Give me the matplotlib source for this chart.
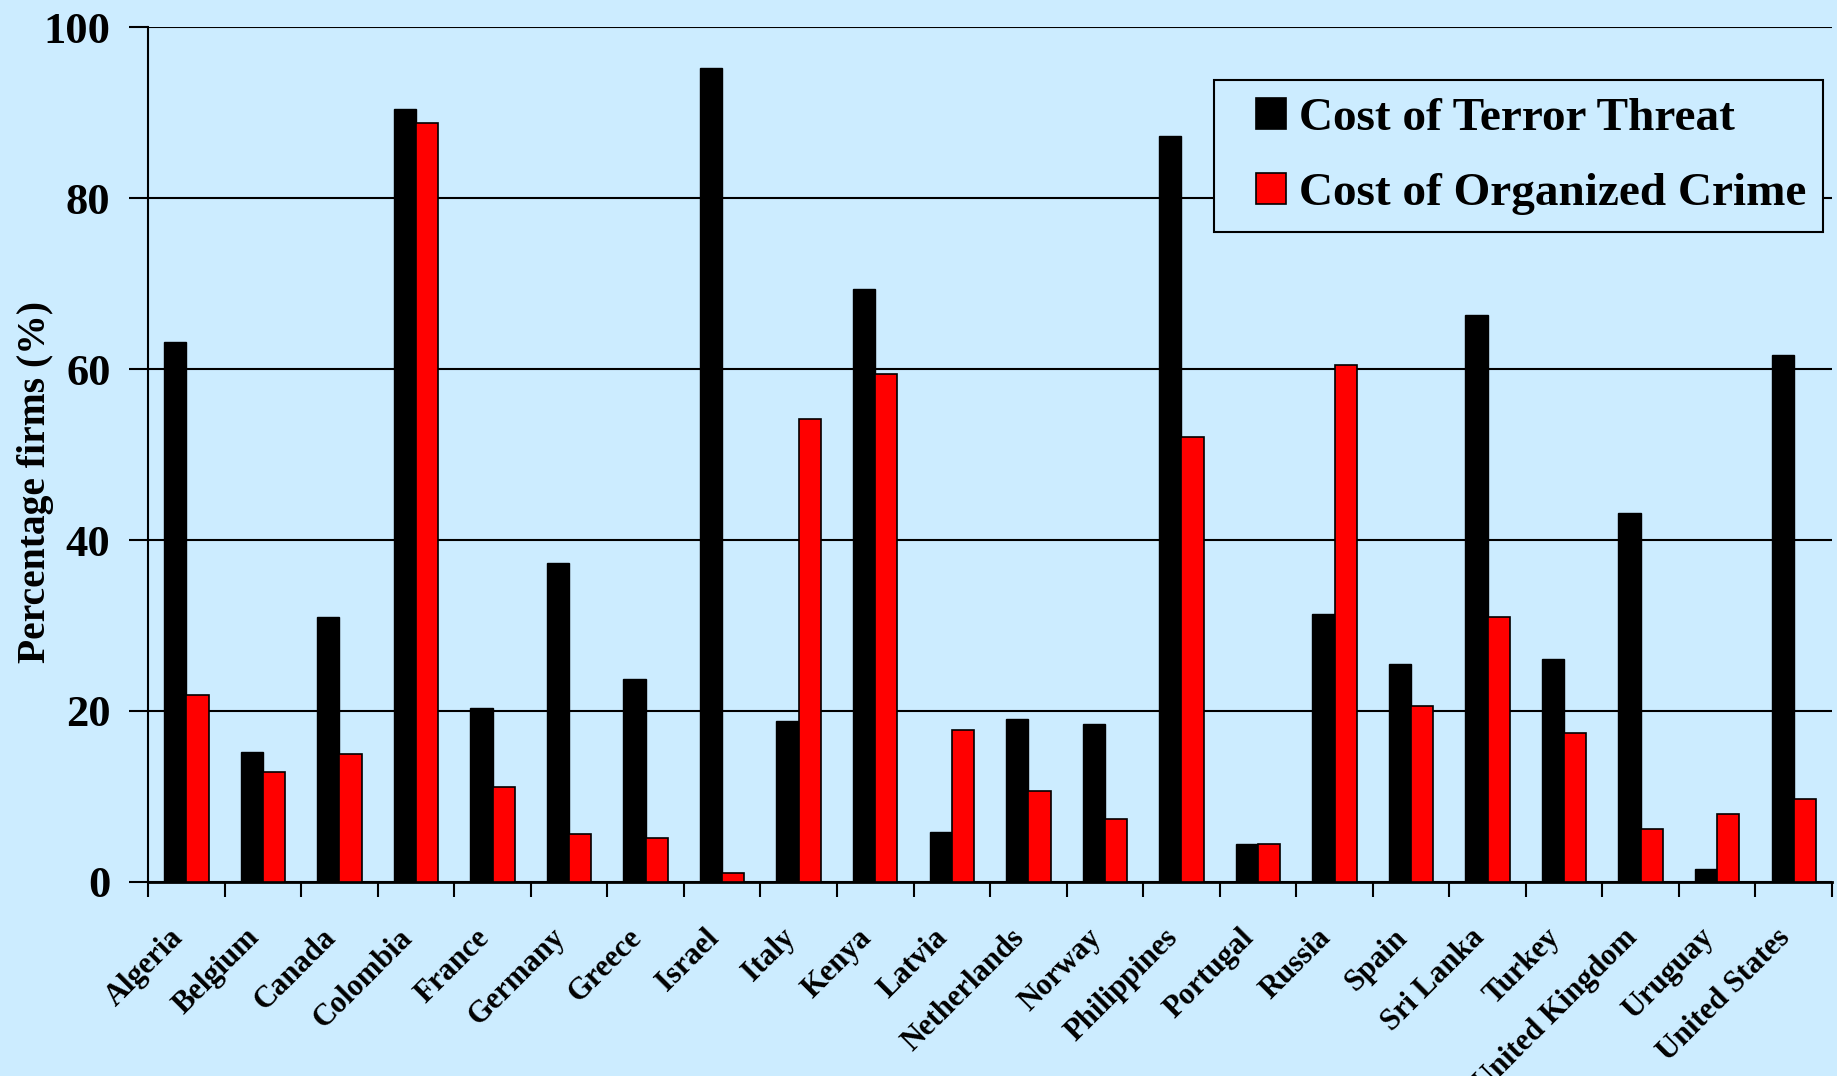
import matplotlib
matplotlib.use("Agg")
import matplotlib.pyplot as plt
import matplotlib.transforms as mtransforms
from matplotlib.legend_handler import HandlerPatch
from matplotlib.patches import Rectangle
import numpy as np

countries = ["Algeria", "Belgium", "Canada", "Colombia", "France", "Germany", "Greece",
             "Israel", "Italy", "Kenya", "Latvia", "Netherlands", "Norway", "Philippines",
             "Portugal", "Russia", "Spain", "Sri Lanka", "Turkey", "United Kingdom",
             "Uruguay", "United States"]
terror = [63.2, 15.2, 31.0, 90.4, 20.4, 37.3, 23.7, 95.2, 18.8, 69.4, 5.9, 19.1, 18.5,
          87.2, 4.4, 31.3, 25.5, 66.3, 26.1, 43.1, 1.5, 61.6]
crime = [21.9, 12.9, 15.0, 88.8, 11.1, 5.6, 5.2, 1.0, 54.2, 59.4, 17.8, 10.6, 7.4,
         52.1, 4.4, 60.5, 20.6, 31.0, 17.4, 6.2, 8.0, 9.7]
yticks = [0, 20, 40, 60, 80, 100]

bg = "#CCECFF"
serif = ["Liberation Serif", "DejaVu Serif"]
plt.rcParams["font.family"] = serif

fig = plt.figure(figsize=(18.37, 10.76), dpi=100, facecolor=bg)
ax = fig.add_axes([0.0806, 0.1803, 0.9973 - 0.0806, 0.9749 - 0.1803])
ax.set_facecolor(bg)

x = np.arange(len(countries))
w = 0.29
b1 = ax.bar(x - w / 2, terror, w, color="black", edgecolor="black", linewidth=1.0,
            label="Cost of Terror Threat", zorder=3)
b2 = ax.bar(x + w / 2, crime, w, color="#FF0000", edgecolor="black", linewidth=1.2,
            label="Cost of Organized Crime", zorder=3)

ax.set_xlim(-0.5, len(countries) - 0.5)
ax.set_ylim(0, 100)
ax.set_yticks(yticks)
ax.set_yticklabels([str(v) for v in yticks], fontsize=32, fontweight="bold")
ax.tick_params(axis="y", direction="out", length=14, width=1.5, pad=13)
ax.yaxis.grid(True, color="black", linewidth=1.5, zorder=0)
ax.set_axisbelow(True)

ax.set_xticks(np.arange(len(countries) + 1) - 0.5)
ax.set_xticklabels([])
ax.tick_params(axis="x", which="major", direction="out", length=11, width=1.5)
ax.set_xticks(x, minor=True)
ax.set_xticklabels(countries, minor=True, rotation=45, ha="right", va="center",
                   rotation_mode="anchor", fontsize=22, fontweight="bold")
ax.tick_params(axis="x", which="minor", length=0, pad=37)
shift = mtransforms.ScaledTranslation(-8 / 100, 0, fig.dpi_scale_trans)
for lbl in ax.get_xticklabels(minor=True):
    lbl.set_transform(lbl.get_transform() + shift)

for s in ["top", "right"]:
    ax.spines[s].set_visible(False)
ax.spines["left"].set_linewidth(1.5)
ax.spines["bottom"].set_linewidth(2.0)

ax.set_ylabel("Percentage firms (%)", fontsize=28.5, fontweight="bold")
ax.yaxis.label.set_va("center")
ax.yaxis.set_label_coords(-0.0671, 0.468)


class SquareHandler(HandlerPatch):
    def create_artists(self, legend, orig_handle, xdescent, ydescent, width, height,
                       fontsize, trans):
        s = 0.65 * fontsize
        r = Rectangle((width - s - xdescent, (height - s) / 2 - ydescent), s, s,
                      facecolor=orig_handle.get_facecolor(), edgecolor="black",
                      linewidth=1.2, transform=trans)
        return [r]


handles = [b1.patches[0], b2.patches[0]]
labels = [b1.get_label(), b2.get_label()]
leg = ax.legend(handles, labels, loc="upper right", bbox_to_anchor=(0.9947, 0.938),
                borderaxespad=0,
                prop={"family": serif, "weight": "bold", "size": 34},
                frameon=True, fancybox=False, edgecolor="black", facecolor=bg,
                framealpha=1, handlelength=1.18, handleheight=0.7, handletextpad=0.27,
                borderpad=0.355, labelspacing=0.68,
                handler_map={Rectangle: SquareHandler()})
leg.get_frame().set_linewidth(1.5)

fig.savefig("out.png", dpi=100, facecolor=bg)
